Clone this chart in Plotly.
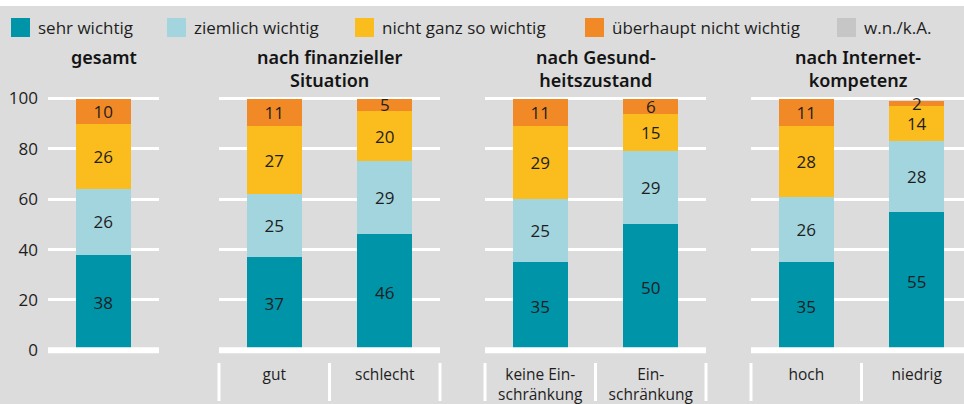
import plotly.graph_objects as go

# Series (stack order bottom -> top)
SERIES_NAMES = ["sehr wichtig", "ziemlich wichtig", "nicht ganz so wichtig",
                "überhaupt nicht wichtig", "w.n./k.A."]
SERIES_COLORS = ["#0094a9", "#a3d5df", "#fbbc1e", "#f18a26", "#c6c6c6"]

GROUP_TITLES = ["gesamt",
                "nach finanzieller<br>Situation",
                "nach Gesund-<br>heitszustand",
                "nach Internet-<br>kompetenz"]
GROUP_CATEGORIES = [["gesamt"],
                    ["gut", "schlecht"],
                    ["keine Ein-<br>schränkung", "Ein-<br>schränkung"],
                    ["hoch", "niedrig"]]

# values in %, one entry per bar (gesamt, gut, schlecht, keine Einschr., Einschr., hoch, niedrig)
sehr_wichtig = [38, 37, 46, 35, 50, 35, 55]
ziemlich_wichtig = [26, 25, 29, 25, 29, 26, 28]
nicht_ganz_so_wichtig = [26, 27, 20, 29, 15, 28, 14]
ueberhaupt_nicht_wichtig = [10, 11, 5, 11, 6, 11, 2]
wn_ka = [0, 0, 0, 0, 0, 0, 0]

Y_TICKS = [0, 20, 40, 60, 80, 100]

SERIES_VALUES = [sehr_wichtig, ziemlich_wichtig, nicht_ganz_so_wichtig,
                 ueberhaupt_nicht_wichtig, wn_ka]

# ---- layout geometry (pixels) ----
W, H = 964, 404
BG = "#dcdcdc"
TXT = "#1e1e1e"
FONT = "Open Sans"
TITLE_FONT = "Noto Sans"
GROUP_PX = [(48, 159), (219, 440), (485, 706), (751, 964)]
SLOT_PX = 110.5
Y_RANGE = [-2, 101]
Y_PX = (355.3, 96.0)          # pixel rows of Y_RANGE[0] / Y_RANGE[1]
LEGEND_X = [11, 167, 355, 585, 837]


def py(p):
    return 1 - p / H


def px(p):
    return p / W


fig = go.Figure()
layout = dict(
    width=W, height=H, autosize=False,
    margin=dict(l=0, r=0, t=0, b=0, pad=0, autoexpand=False),
    paper_bgcolor=BG, plot_bgcolor=BG,
    barmode="stack", showlegend=False,
    font=dict(family=FONT, color=TXT),
    hovermode=False,
)
shapes = []
annotations = []

start = 0
for g, cats in enumerate(GROUP_CATEGORIES):
    n = g + 1
    xa = "x" if n == 1 else f"x{n}"
    ya = "y" if n == 1 else f"y{n}"
    sl = slice(start, start + len(cats))
    start += len(cats)

    for name, color, vals in zip(SERIES_NAMES, SERIES_COLORS, SERIES_VALUES):
        v = vals[sl]
        fig.add_trace(go.Bar(
            x=cats, y=v, name=name, xaxis=xa, yaxis=ya,
            marker=dict(color=color, line=dict(width=0)),
            width=0.5,
            text=[str(t) if t else "" for t in v],
            textposition="inside", insidetextanchor="middle",
            constraintext="none", textangle=0,
            textfont=dict(family=FONT, size=17, color=TXT),
            hoverinfo="skip",
        ))

    x0p, x1p = GROUP_PX[g]
    r0 = -0.5
    r1 = r0 + (x1p - x0p) / SLOT_PX
    layout["xaxis" if n == 1 else f"xaxis{n}"] = dict(
        domain=[px(x0p), px(x1p)], anchor=ya, type="category",
        categoryorder="array", categoryarray=cats,
        range=[r0, r1], autorange=False, automargin=False,
        showgrid=False, zeroline=False, showline=False,
        ticks="", showticklabels=(len(cats) > 1),
        tickfont=dict(family=FONT, size=15.5, color=TXT),
        ticklabelstandoff=8, fixedrange=True,
    )
    layout["yaxis" if n == 1 else f"yaxis{n}"] = dict(
        domain=[py(Y_PX[0]), py(Y_PX[1])], anchor=xa,
        range=Y_RANGE, autorange=False, automargin=False,
        tickvals=Y_TICKS, showgrid=True, gridcolor="white", gridwidth=3,
        zeroline=False, showline=False, ticks="",
        showticklabels=(n == 1),
        tickfont=dict(family=FONT, size=17, color=TXT),
        ticklabelstandoff=9, fixedrange=True,
    )

    # thick white baseline at 0
    shapes.append(dict(type="rect", xref=f"{xa} domain", yref=ya,
                       x0=0, x1=1, y0=-1.2, y1=1.2,
                       fillcolor="white", line=dict(width=0), layer="above"))

    # white separators between category labels
    if len(cats) > 1:
        for k in range(len(cats) + 1):
            frac = (k - 0.5 - r0) / (r1 - r0)
            if frac <= 1.0001:
                shapes.append(dict(type="line", xref=f"{xa} domain", yref="paper",
                                   x0=frac, x1=frac, y0=py(401), y1=py(363),
                                   line=dict(color="white", width=3)))

    # group title
    lines = GROUP_TITLES[g].count("<br>") + 1
    annotations.append(dict(
        x=px((x0p + x1p) / 2), y=py(57 + 11.5 * (lines - 1)),
        xref="paper", yref="paper",
        text=GROUP_TITLES[g], showarrow=False,
        xanchor="center", yanchor="middle", align="center",
        font=dict(family=TITLE_FONT, size=18, color="#141414", weight=600),
    ))

# white strip along the top edge
shapes.append(dict(type="rect", xref="paper", yref="paper",
                   x0=0, x1=1, y0=py(6), y1=1,
                   fillcolor="white", line=dict(width=0), layer="above"))

# legend row
for lx, name, color in zip(LEGEND_X, SERIES_NAMES, SERIES_COLORS):
    shapes.append(dict(type="rect", xref="paper", yref="paper",
                       x0=px(lx), x1=px(lx + 19), y0=py(37), y1=py(18),
                       fillcolor=color, line=dict(width=0)))
    annotations.append(dict(
        x=px(lx + 25), y=py(27.5), xref="paper", yref="paper",
        text=name, showarrow=False, xanchor="left", yanchor="middle",
        font=dict(family=FONT, size=17, color=TXT),
    ))

layout["shapes"] = shapes
layout["annotations"] = annotations
fig.update_layout(**layout)

fig.write_html("out.html", config={"displayModeBar": False})
